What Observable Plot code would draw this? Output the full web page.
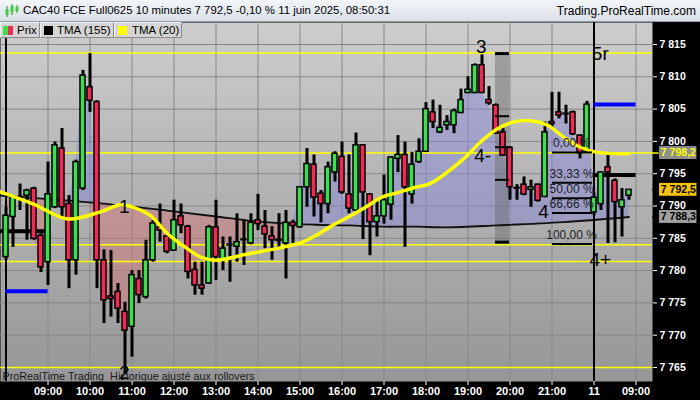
<!DOCTYPE html>
<html><head><meta charset="utf-8">
<script src="https://cdn.jsdelivr.net/npm/d3@7"></script>
<script src="https://cdn.jsdelivr.net/npm/@observablehq/plot@0.6"></script>
<style>
body{margin:0;width:700px;height:400px;overflow:hidden;background:#000;position:relative;font-family:"Liberation Sans",Arial,sans-serif}
#hdr{position:absolute;left:0;top:0;width:700px;height:22px;background:linear-gradient(#f3f6f9,#d8e0e7);border-bottom:1px solid #8b9cab;box-sizing:border-box;font-size:12px;color:#000}
#hdr .t{position:absolute;top:4px;white-space:pre}
#chart{position:absolute;left:0;top:22px}
#legend{position:absolute;left:0;top:22px;display:flex;height:16px}
.lg{box-sizing:border-box;height:16px;background:#d5d5d5;border:1px solid #f2f2f2;border-right-color:#8a8a8a;border-bottom-color:#8a8a8a;font-size:11.5px;line-height:14px;position:relative;color:#000;white-space:pre}
.sq{position:absolute;top:3px;width:9px;height:9px}
</style></head>
<body>
<div id="hdr">
  <svg width="16" height="16" style="position:absolute;left:4px;top:3px">
    <line x1="3" y1="3" x2="3" y2="14" stroke="#2a8a2a"/><rect x="1.5" y="6" width="3" height="6" fill="#3ecb3e"/>
    <line x1="8" y1="1" x2="8" y2="12" stroke="#2a8a2a"/><rect x="6.5" y="3" width="3" height="6" fill="#3ecb3e"/>
    <line x1="13" y1="2" x2="13" y2="10" stroke="#2a8a2a"/><rect x="11.5" y="4" width="3" height="4" fill="#3ecb3e"/>
  </svg>
  <span class="t" style="left:23px;font-size:11.4px;top:4px">CAC40 FCE Full0625 10 minutes 7 792,5 -0,10 % 11 juin 2025, 08:50:31</span>
  <span class="t" style="right:4px">Trading.ProRealTime.com</span>
</div>
<div id="chart"></div>
<div id="legend">
  <div class="lg" style="width:40px"><span class="sq" style="left:2px;width:5px;background:#3ee04a"></span><span class="sq" style="left:7px;width:5px;background:#ee2a55"></span><span style="position:absolute;left:16px">Prix</span></div>
  <div class="lg" style="width:74px"><span class="sq" style="left:3px;background:#000"></span><span style="position:absolute;left:16px">TMA (155)</span></div>
  <div class="lg" style="width:68px"><span class="sq" style="left:3px;background:#ffff00"></span><span style="position:absolute;left:17px">TMA (20)</span></div>
</div>
<script>
// ---- data (10-minute bars, 10 juin 08:00 -> 11 juin 08:50) ----
const opens  = [7782.1,7788.3,7791.2,7791.6,7792.7,7785.4,7781.3,7789.8,7798.9,7790.3,
                7781.6,7792.7,7808.4,7806.1,7781.6,7776.0,7776.7,7773.6,7771.3,7778.7,
                7775.9,7781.6,7786.7,7785.3,7783.1,7788.4,7786.8,7780.1,7777.7,7778.0,
                7786.7,7781.6,7783.9,7783.7,7784.7,7784.2,7787.8,7786.8,7785.3,7784.8,
                7784.2,7787.4,7786.7,7792.9,7796.4,7791.9,7790.3,7795.2,7797.6,7791.8,
                7789.3,7799.4,7791.8,7787.5,7788.4,7790.2,7797.3,7797.9,7791.8,7796.8,
                7798.4,7804.5,7801.4,7802.5,7802.5,7804.4,7807.5,7807.5,7811.8,7806.4,
                7805.6,7801.4,7799.0,7792.7,7793.3,7792.5,7793.3,7791.4,7803.0,7804.5,
                7804.3,7804.5,7800.9,7798.3,7789.0,7790.3,7796.0,7793.9,7789.8,7791.6];
const highs  = [7789.8,7791.6,7793.4,7792.6,7792.9,7785.7,7796.8,7799.9,7802.0,7791.6,
                7797.1,7811.0,7813.6,7806.3,7783.2,7783.1,7778.0,7775.1,7780.0,7780.0,
                7784.7,7787.8,7790.3,7785.4,7790.9,7790.3,7787.0,7781.3,7781.3,7787.0,
                7790.9,7785.2,7785.2,7788.8,7787.8,7788.8,7791.8,7789.3,7786.8,7788.8,
                7789.3,7787.8,7793.0,7798.9,7797.9,7792.4,7796.8,7798.4,7799.9,7797.9,
                7801.3,7799.5,7791.9,7791.0,7794.8,7797.6,7800.9,7799.9,7798.3,7800.4,
                7806.0,7806.4,7805.6,7804.0,7805.0,7808.1,7810.0,7812.0,7813.4,7808.5,
                7805.8,7802.0,7799.2,7793.3,7794.5,7794.0,7793.4,7803.0,7807.6,7807.6,
                7805.6,7804.7,7801.0,7806.2,7792.0,7795.2,7798.1,7794.2,7792.7,7792.5];
const lows   = [7781.6,7783.6,7789.3,7784.7,7784.7,7779.7,7777.7,7789.6,7788.3,7777.2,
                7779.3,7792.4,7804.5,7777.2,7771.8,7772.8,7771.8,7764.0,7766.6,7774.9,
                7775.6,7781.3,7784.4,7782.6,7783.0,7785.7,7778.7,7776.2,7776.2,7777.9,
                7778.5,7780.0,7778.2,7781.3,7780.8,7784.0,7786.2,7783.4,7781.6,7783.6,
                7778.7,7784.2,7786.6,7789.8,7788.3,7787.4,7788.8,7793.7,7791.8,7788.8,
                7789.2,7784.8,7782.3,7785.2,7787.2,7787.8,7795.2,7783.6,7790.3,7796.6,
                7798.3,7802.0,7801.2,7801.7,7801.2,7804.3,7807.4,7807.4,7807.4,7805.6,
                7801.1,7797.7,7790.9,7790.9,7791.6,7789.8,7790.6,7791.3,7802.2,7803.5,
                7802.7,7800.9,7797.3,7798.2,7788.5,7789.3,7784.2,7784.3,7785.2,7790.9];
const closes = [7788.5,7791.4,7791.4,7792.4,7784.9,7780.5,7791.8,7799.4,7789.8,7781.6,
                7796.8,7810.2,7806.3,7781.6,7775.4,7775.6,7774.1,7770.7,7779.3,7776.2,
                7781.6,7787.3,7786.2,7782.9,7787.8,7787.0,7779.8,7777.7,7777.2,7786.7,
                7782.1,7783.4,7784.0,7784.4,7784.8,7787.4,7787.2,7785.6,7784.7,7784.6,
                7787.4,7786.9,7792.9,7796.5,7791.3,7790.3,7796.0,7798.1,7792.1,7789.6,
                7799.4,7792.1,7787.5,7788.4,7790.9,7797.5,7797.9,7792.9,7796.4,7798.4,
                7805.0,7803.0,7802.1,7803.0,7804.7,7806.4,7808.0,7811.8,7807.5,7805.9,
                7801.2,7797.8,7792.9,7792.8,7791.8,7792.9,7790.8,7801.4,7802.7,7804.0,
                7804.2,7801.1,7798.2,7805.7,7791.3,7795.2,7795.2,7790.6,7790.9,7792.5];

// TMA(155) read at bar positions
const tma155Idx = [-0.8, 13.5, 23, 30.6, 34.6, 39.5, 44.2, 49, 53.8, 58.5, 63, 70.2, 79.6, 89];
const tma155Val = [7791.6, 7790.4, 7789.3, 7788.3, 7787.75, 7787.3, 7787.1, 7787.0, 7786.8, 7786.8, 7786.7, 7787.0, 7787.5, 7788.3];
// TMA(20) read at bar positions
const tma20Idx = [-0.79, 3.93, 8.79, 13.5, 16.36, 18.2, 20.64, 23.07, 25.36, 27.79, 29.93, 34.64, 39.5, 42.36, 44.21, 46.64, 48.93, 51.36, 53.79, 56.07, 58.5, 60.64, 65.36, 67.79, 70.21, 72.5, 74.93, 77.36, 79.64, 82.07, 84.5, 88.93];
const tma20Val = [7792.2, 7790.3, 7788.0, 7789.1, 7790.2, 7789.8, 7788.5, 7785.7, 7783.8, 7782.1, 7781.6, 7782.6, 7783.6, 7784.4, 7785.4, 7787.0, 7788.3, 7789.8, 7791.4, 7792.1, 7792.9, 7793.5, 7797.3, 7799.9, 7801.95, 7803.0, 7803.2, 7802.5, 7800.7, 7799.1, 7798.3, 7798.1];

// horizontal levels
const yellowLevels = [7813.7, 7798.2, 7784.0, 7781.4, 7765.0];
const prevCloseLevels = [{i1: 0, i2: 6, v: 7776.8}, {i1: 84, i2: 90, v: 7805.7}];
const openLevels = [{i1: -0.786, i2: 6, v: 7786.1}, {i1: 84, i2: 90, v: 7794.8}];
const dayStarts = [0, 84];

// Fibonacci retracement
const fibLevels = [7798.3, 7793.6, 7791.2, 7788.9, 7784.1];
const fibLabels = ["0,00 %", "33,33 %", "50,00 %", "66,66 %", "100,00 %"];
const fibSpan = [78.07, 83.79];
// vertical shaded band with its level ticks
const bandSpan = [69.93, 71.93];
const bandLevels = [7813.6, 7784.4];
const bandTicks = [7803.9, 7799.1, 7794.05];

// wave labels
const waveLabels = ["1", "2", "3", "4-", "4", "4+", "5r"];
const waveIdx = [16.9, 16.9, 67.9, 68.1, 76.8, 84.9, 84.9];
const waveVal = [7789.8, 7764.15, 7814.7, 7797.8, 7789.15, 7781.6, 7813.6];

// axes
const yTicks = [7765, 7770, 7775, 7780, 7785, 7790, 7795, 7800, 7805, 7810, 7815];
const xTickPos = [6, 12, 18, 24, 30, 36, 42, 48, 54, 60, 66, 72, 78, 84, 90];
const xTickLabels = ["09:00","10:00","11:00","12:00","13:00","14:00","15:00","16:00","17:00","18:00","19:00","20:00","21:00","11","09:00"];
// right-axis value tags
const tagValues = [7798.2, 7792.5, 7788.3];
const tagKinds = ["tma20", "last", "tma155"];

// ---- build ----
const GREEN = "#40dd50", RED = "#ee2a55";
const bars = closes.map((c, i) => ({i, o: opens[i], h: highs[i], l: lows[i], c}));
const tmaAt = d3.scaleLinear(tma155Idx, tma155Val);
const tma155 = tma155Idx.map((x, k) => ({x, v: tma155Val[k]}));
const tma20 = tma20Idx.map((x, k) => ({x, v: tma20Val[k]}));
const fibs = fibLevels.map((v, k) => ({v, t: fibLabels[k]}));
const waves = waveLabels.map((t, k) => ({t, x: waveIdx[k], v: waveVal[k]}));
const tagStyle = {tma20: {bg: "#8e8e8e", fg: "#ffff00"}, last: {bg: "#f4c20d", fg: "#000"}, tma155: {bg: "#a0a0a0", fg: "#000"}};
const tags = tagValues.map((v, k) => ({v, ...tagStyle[tagKinds[k]]}));
const xLabelOf = new Map(xTickPos.map((p, k) => [p, xTickLabels[k]]));
const fmtTick = d => d3.format(",")(d).replace(/,/g, " ");
const fmtTag = v => d3.format(",.1f")(v).replace(/,/g, " ").replace(".", ",");
const FONT = '"Liberation Sans", Arial, sans-serif';

const svg = Plot.plot({
  width: 700, height: 378,
  marginLeft: 0, marginRight: 48, marginTop: 0, marginBottom: 19,
  x: {type: "linear", domain: [-0.786, 92.357]},
  y: {domain: [7762.83, 7818.41]},
  color: {type: "identity"},
  style: {background: "#000", color: "#fff", fontFamily: FONT},
  marks: [
    Plot.frame({fill: "url(#bgGrad)"}),
    Plot.gridY({ticks: yTicks, stroke: "#878787", strokeOpacity: 1}),
    Plot.gridX({ticks: xTickPos, stroke: "#878787", strokeOpacity: 1}),
    Plot.areaY(bars, {x: "i", y1: d => tmaAt(d.i), y2: d => Math.max(d.c, tmaAt(d.i)), fill: "#8686dc", fillOpacity: 0.45}),
    Plot.areaY(bars, {x: "i", y1: d => tmaAt(d.i), y2: d => Math.min(d.c, tmaAt(d.i)), fill: "#d27070", fillOpacity: 0.45}),
    Plot.rect([bandLevels], {x1: () => bandSpan[0], x2: () => bandSpan[1], y1: d => d[0], y2: d => d[1], fill: "#6a6a6a", fillOpacity: 0.45}),
    Plot.ruleY(yellowLevels, {stroke: "#ffff00", strokeWidth: 1.5}),
    Plot.line(tma155, {x: "x", y: "v", stroke: "#111", strokeWidth: 1.8, curve: "catmull-rom"}),
    Plot.ruleX(dayStarts, {stroke: "#000", strokeWidth: 2}),
    Plot.ruleY(prevCloseLevels, {x1: "i1", x2: "i2", y: "v", stroke: "#0000ff", strokeWidth: 4}),
    Plot.ruleY(openLevels, {x1: "i1", x2: "i2", y: "v", stroke: "#000", strokeWidth: 4}),
    Plot.ruleX(bars, {x: "i", y1: "l", y2: "h", stroke: "#000", strokeWidth: 3}),
    Plot.rect(bars, {x1: d => d.i - 0.36, x2: d => d.i + 0.36, y1: "o", y2: "c", fill: d => d.c >= d.o ? GREEN : RED, stroke: "#000", strokeWidth: 1.5}),
    Plot.line(tma20, {x: "x", y: "v", stroke: "#ffff00", strokeWidth: 3.5, curve: "catmull-rom"}),
    Plot.ruleY(bandLevels, {x1: () => bandSpan[0], x2: () => bandSpan[1], stroke: "#000", strokeWidth: 3}),
    Plot.ruleY(bandTicks, {x1: () => bandSpan[0], x2: () => bandSpan[1], stroke: "#000", strokeWidth: 2}),
    Plot.ruleY(fibLevels, {x1: () => fibSpan[0], x2: () => fibSpan[1], stroke: "#000", strokeWidth: 2}),
    Plot.text(fibs, {x: () => 80.8, y: "v", text: "t", dy: -9, fill: "#1e1e2a", fontSize: 12, textAnchor: "middle"}),
    Plot.text(waves, {x: "x", y: "v", text: "t", fill: "#000", fontSize: 19, textAnchor: "middle"}),
    Plot.text(["ProRealTime Trading  Historique ajusté aux rollovers"], {frameAnchor: "bottom-left", dx: 2, dy: -2, lineAnchor: "bottom", fill: "#1a1a1a", fontSize: 10.8}),
    Plot.axisY({anchor: "right", ticks: yTicks, tickFormat: fmtTick, tickSize: 4, tickPadding: 3, fontSize: 10.5, fontWeight: "bold", label: null}),
    Plot.axisX({ticks: xTickPos, tickFormat: d => xLabelOf.get(d), tickSize: 4, tickPadding: 2, fontSize: 11, fontWeight: "bold", label: null}),
    Plot.rect(tags, {x1: () => 93.36, x2: () => 98.7, y1: d => d.v - 1.0, y2: d => d.v + 1.0, fill: "bg"}),
    Plot.ruleY(tags, {x1: () => 92.36, x2: () => 93.3, y: "v", stroke: "fg", strokeWidth: 1.5}),
    Plot.text(tags, {x: () => 93.55, y: "v", text: d => fmtTag(d.v), fill: "fg", textAnchor: "start", fontWeight: "bold", fontSize: 10.5})
  ]
});
const defs = document.createElementNS("http://www.w3.org/2000/svg", "defs");
defs.innerHTML = '<linearGradient id="bgGrad" x1="0" y1="0" x2="0" y2="1"><stop offset="0" stop-color="#cdcdcd"/><stop offset="1" stop-color="#969696"/></linearGradient>';
svg.insertBefore(defs, svg.firstChild);
document.getElementById("chart").appendChild(svg);
</script>
</body></html>
